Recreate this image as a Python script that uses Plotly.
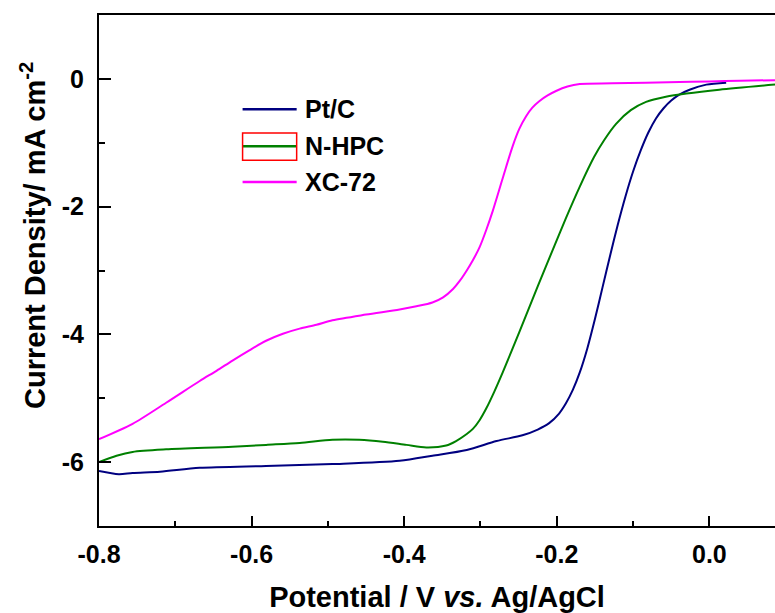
import plotly.graph_objects as go

# Linear sweep voltammetry curves (potential in V vs. Ag/AgCl, current density in mA cm^-2)
ptc_potential = [-0.800, -0.774, -0.756, -0.720, -0.668, -0.581, -0.494, -0.406, -0.363,
                 -0.318, -0.279, -0.245, -0.225, -0.210, -0.197, -0.188, -0.179, -0.170,
                 -0.160, -0.150, -0.140, -0.130, -0.120, -0.110, -0.100, -0.090, -0.080,
                 -0.070, -0.060, -0.050, -0.040, -0.026, -0.004, 0.022]
ptc_current = [-6.14, -6.19, -6.17, -6.15, -6.09, -6.06, -6.03, -5.98, -5.90,
               -5.81, -5.67, -5.58, -5.49, -5.39, -5.24, -5.08, -4.87, -4.60,
               -4.22, -3.76, -3.26, -2.76, -2.28, -1.84, -1.45, -1.12, -0.84,
               -0.62, -0.46, -0.34, -0.25, -0.17, -0.09, -0.06]

nhpc_potential = [-0.800, -0.777, -0.756, -0.712, -0.625, -0.581, -0.537, -0.494, -0.459,
                  -0.428, -0.397, -0.371, -0.345, -0.332, -0.318, -0.310, -0.301, -0.292,
                  -0.282, -0.271, -0.249, -0.225, -0.203, -0.188, -0.170, -0.151, -0.138,
                  -0.122, -0.103, -0.083, -0.057, -0.030, 0.013, 0.086]
nhpc_current = [-6.00, -5.90, -5.84, -5.80, -5.76, -5.73, -5.70, -5.65, -5.65,
                -5.68, -5.73, -5.77, -5.74, -5.67, -5.56, -5.48, -5.34, -5.15,
                -4.90, -4.60, -3.96, -3.25, -2.61, -2.18, -1.69, -1.22, -0.96,
                -0.70, -0.49, -0.36, -0.28, -0.23, -0.17, -0.09]

xc72_potential = [-0.800, -0.756, -0.712, -0.668, -0.646, -0.625, -0.603, -0.581, -0.559,
                  -0.537, -0.515, -0.494, -0.450, -0.406, -0.384, -0.363, -0.349, -0.336,
                  -0.327, -0.318, -0.310, -0.301, -0.292, -0.284, -0.271, -0.258, -0.249,
                  -0.240, -0.232, -0.223, -0.212, -0.201, -0.186, -0.170, -0.127, -0.039,
                  0.000, 0.040, 0.086]
xc72_current = [-5.64, -5.40, -5.07, -4.73, -4.57, -4.41, -4.25, -4.10, -3.99,
                -3.91, -3.85, -3.78, -3.69, -3.61, -3.56, -3.50, -3.42, -3.29,
                -3.16, -3.00, -2.84, -2.63, -2.35, -2.07, -1.56, -1.06, -0.78,
                -0.58, -0.45, -0.35, -0.26, -0.19, -0.12, -0.08, -0.07, -0.05,
                -0.04, -0.03, -0.02]

series_names = ["Pt/C", "N-HPC", "XC-72"]
series_colors = ["#000080", "#008000", "#FF00FF"]
series_x = [ptc_potential, nhpc_potential, xc72_potential]
series_y = [ptc_current, nhpc_current, xc72_current]

x_tick_values = [-0.8, -0.6, -0.4, -0.2, 0.0]
x_tick_labels = ["-0.8", "-0.6", "-0.4", "-0.2", "0.0"]
y_tick_values = [-6, -4, -2, 0]
y_tick_labels = ["-6", "-4", "-2", "0"]

FONT = "Arial, Liberation Sans, sans-serif"

fig = go.Figure()
for name, color, xs, ys in zip(series_names, series_colors, series_x, series_y):
    fig.add_trace(go.Scatter(x=xs, y=ys, mode="lines", name=name,
                             line=dict(color=color, width=2, shape="spline", smoothing=0.8),
                             showlegend=False))

# Hand-placed legend: sample line + label for each series
legend_y = [0.8156, 0.7432, 0.6734]
shapes = []
annotations = []
for name, color, ly in zip(series_names, series_colors, legend_y):
    shapes.append(dict(type="line", xref="paper", yref="paper", x0=0.2124, x1=0.2924,
                       y0=ly, y1=ly, line=dict(color=color, width=2.5)))
    annotations.append(dict(text=name, xref="paper", yref="paper", x=0.3012, y=ly,
                            xanchor="left", yanchor="middle", showarrow=False,
                            font=dict(family=FONT, size=25, color="black", weight="bold")))
# red frame around the N-HPC sample
shapes.append(dict(type="rect", xref="paper", yref="paper", x0=0.2124, x1=0.2924,
                   y0=0.7158, y1=0.7692, line=dict(color="red", width=1.5)))

# vertical axis title
annotations.append(dict(text="Current Density/ mA cm<sup>-2</sup>", xref="paper", yref="paper",
                        x=-0.0976, y=0.5675, xanchor="center", yanchor="middle",
                        textangle=-90, showarrow=False,
                        font=dict(family=FONT, size=29, color="black", weight="bold")))

fig.update_layout(
    width=775, height=613,
    margin=dict(l=99, r=0, t=15, b=87),
    paper_bgcolor="white", plot_bgcolor="white",
    shapes=shapes, annotations=annotations,
    showlegend=False,
)

fig.update_xaxes(
    range=[-0.8, 0.086],
    tickvals=x_tick_values, ticktext=x_tick_labels,
    ticks="inside", ticklen=10, tickwidth=2, tickcolor="black",
    minor=dict(tickvals=[-0.7, -0.5, -0.3, -0.1], ticks="inside", ticklen=5,
               tickwidth=2, tickcolor="black"),
    showline=True, linewidth=2, linecolor="black", mirror=True,
    showgrid=False, zeroline=False,
    tickfont=dict(family=FONT, size=25, color="black", weight="bold"),
    ticklabelstandoff=5,
    title=dict(text="Potential / V <i>vs.</i> Ag/AgCl", standoff=24,
               font=dict(family=FONT, size=29, color="black", weight="bold")),
)
fig.update_yaxes(
    range=[-7, 1],
    tickvals=y_tick_values, ticktext=y_tick_labels,
    ticks="inside", ticklen=12, tickwidth=2, tickcolor="black",
    minor=dict(tickvals=[-5, -3, -1], ticks="inside", ticklen=6,
               tickwidth=2, tickcolor="black"),
    showline=True, linewidth=2, linecolor="black", mirror=False,
    showgrid=False, zeroline=False,
    tickfont=dict(family=FONT, size=25, color="black", weight="bold"),
    ticklabelstandoff=8,
)

fig.write_html("out.html")
